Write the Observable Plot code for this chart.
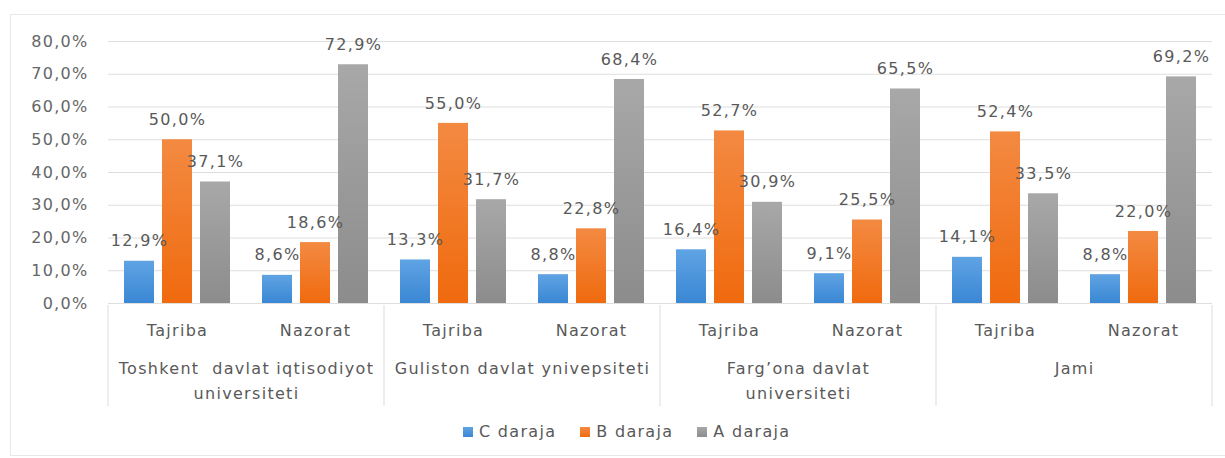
<!DOCTYPE html>
<html>
<head>
<meta charset="utf-8">
<script src="https://cdn.jsdelivr.net/npm/d3@7"></script>
<script src="https://cdn.jsdelivr.net/npm/@observablehq/plot@0.6"></script>
<style>
  html, body { margin: 0; padding: 0; background: #fff; }
  #wrap { position: relative; width: 1225px; height: 458px; overflow: hidden; }
  #border { position: absolute; left: 10px; top: 14px; width: 1230px; height: 442px; border: 1px solid #e8e8e8; box-sizing: border-box; }
  #chart { position: absolute; left: 0; top: 0; }
  #chart svg text { white-space: pre; }
  div .lg-swatch { margin-right: 24px !important; }
  div .lg-swatch > svg { margin-right: 6px !important; }
</style>
</head>
<body>
<svg width="0" height="0" style="position:absolute">
  <defs>
    <linearGradient id="gC" x1="0" y1="0" x2="0" y2="1">
      <stop offset="0" stop-color="#5fa3e3"/><stop offset="1" stop-color="#3a87d4"/>
    </linearGradient>
    <linearGradient id="gB" x1="0" y1="0" x2="0" y2="1">
      <stop offset="0" stop-color="#f38a42"/><stop offset="1" stop-color="#f06a0e"/>
    </linearGradient>
    <linearGradient id="gA" x1="0" y1="0" x2="0" y2="1">
      <stop offset="0" stop-color="#a8a8a8"/><stop offset="1" stop-color="#8c8c8c"/>
    </linearGradient>
  </defs>
</svg>
<div id="wrap"><div id="border"></div><div id="chart"></div></div>
<script>
// ---- data ----
const universities = ["Toshkent  davlat iqtisodiyot\nuniversiteti", "Guliston davlat ynivepsiteti", "Farg’ona davlat\nuniversiteti", "Jami"];
const groups = ["Tajriba", "Nazorat"];
const series = ["C daraja", "B daraja", "A daraja"];
const cDaraja = [12.9, 8.6, 13.3, 8.8, 16.4, 9.1, 14.1, 8.8];
const bDaraja = [50.0, 18.6, 55.0, 22.8, 52.7, 25.5, 52.4, 22.0];
const aDaraja = [37.1, 72.9, 31.7, 68.4, 30.9, 65.5, 33.5, 69.2];
const yTicks = [0, 10, 20, 30, 40, 50, 60, 70, 80];
const seriesFills = ["url(#gC)", "url(#gB)", "url(#gA)"];

// ---- build table ----
const key = (u, g) => `${u}|${g}`;
const fxDomain = [];
universities.forEach((u, ui) => groups.forEach(g => fxDomain.push(key(ui, g))));
const valuesBySeries = [cDaraja, bDaraja, aDaraja];
const rows = [];
fxDomain.forEach((k, i) => {
  series.forEach((s, si) => rows.push({k, series: s, value: valuesBySeries[si][i]}));
});
const groupLabels = fxDomain.map((k) => ({k, label: k.split("|")[1]}));
const uniLabels = universities.map((u, ui) => ({k: key(ui, groups[0]), label: u}));
const fmt = v => v.toFixed(1).replace(".", ",") + "%";

const font = {fontFamily: "DejaVu Sans", fontSize: "16px", letterSpacing: "1.3px", color: "#595959", background: "transparent"};

const plot = Plot.plot({
  width: 1225,
  height: 415,
  marginLeft: 108,
  marginRight: 13,
  marginTop: 41,
  marginBottom: 112,
  style: font,
  fx: {domain: fxDomain, padding: 0, axis: null},
  x: {domain: series, paddingInner: 0.21, paddingOuter: 0.42, axis: null},
  y: {domain: [0, 80], axis: null},
  color: {domain: series, range: seriesFills},
  marks: [
    Plot.ruleY(yTicks, {y: d => d, stroke: "#dedede", strokeWidth: 1}),
    Plot.axisY({ticks: yTicks, tickFormat: fmt, tickSize: 0, tickPadding: 20, label: null, fill: "#666"}),
    Plot.barY(rows, {fx: "k", x: "series", y: "value", fill: "series"}),
    Plot.text(rows, {fx: "k", x: "series", y: "value", text: d => fmt(d.value), dy: -20, lineAnchor: "middle", fill: "#595959"}),
    Plot.text(groupLabels, {fx: "k", text: "label", frameAnchor: "bottom", dy: 27, lineAnchor: "middle", fill: "#595959"}),
    Plot.text(uniLabels, {fx: "k", text: "label", frameAnchor: "bottom-right", textAnchor: "middle", lineAnchor: "top", dy: 53, lineHeight: 1.56, fill: "#595959"})
  ]
});

// separators between universities (multi-level category axis)
const fx = plot.scale("fx");
const y0 = plot.scale("y").apply(0);
const xs = universities.map((u, ui) => fx.apply(key(ui, groups[0])));
xs.push(fx.apply(key(universities.length - 1, groups[1])) + fx.bandwidth);
const svg = d3.select(plot);
svg.append("g").selectAll("line").data(xs).join("line")
  .attr("x1", d => d).attr("x2", d => d)
  .attr("y1", y0 + 2).attr("y2", y0 + 103)
  .attr("stroke", "#dcdcdc").attr("stroke-width", 1);

document.getElementById("chart").appendChild(plot);

const legend = Plot.legend({
  color: {domain: series, range: seriesFills},
  swatchSize: 10,
  className: "lg",
  style: {fontFamily: "DejaVu Sans", fontSize: "16px", letterSpacing: "1.3px", color: "#595959", paddingLeft: "463px", margin: "0", minHeight: "33px"}
});
document.getElementById("chart").appendChild(legend);
</script>
</body>
</html>
